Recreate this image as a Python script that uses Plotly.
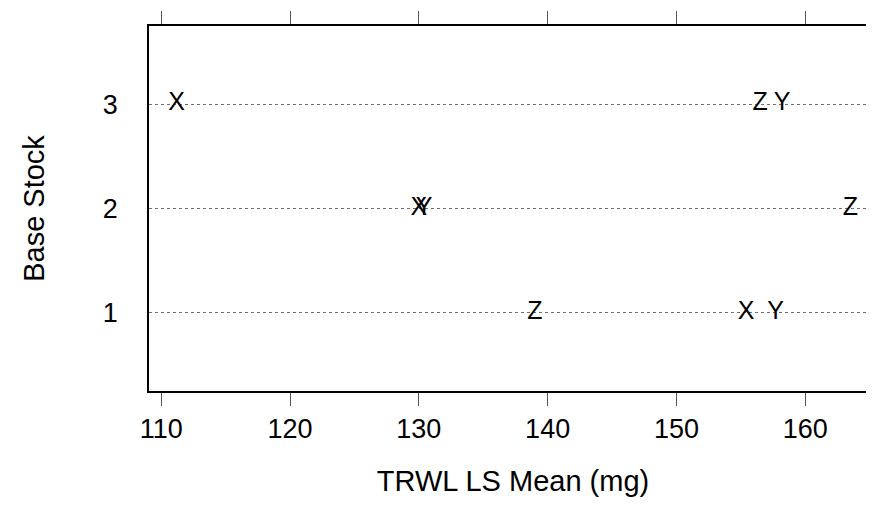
import plotly.graph_objects as go

# 数据：每个 Base Stock 水平上的 X / Y / Z 均值
base_stock = [3, 2, 1]
x_means = [111.2, 130.0, 155.4]
y_means = [158.2, 130.4, 157.7]
z_means = [156.5, 163.5, 139.0]
x_ticks = [110, 120, 130, 140, 150, 160]
y_ticks = [1, 2, 3]

FONT = "Arial, Liberation Sans, sans-serif"

fig = go.Figure()

for label, vals in [("X", x_means), ("Y", y_means), ("Z", z_means)]:
    fig.add_trace(go.Scatter(
        x=vals,
        y=base_stock,
        mode="text",
        text=[label] * len(vals),
        textposition="middle center",
        textfont=dict(family=FONT, size=25, color="black"),
        showlegend=False,
        hoverinfo="x+y",
    ))

fig.update_layout(
    width=874,
    height=505,
    margin=dict(l=141, r=3, t=18, b=122),
    paper_bgcolor="white",
    plot_bgcolor="white",
    font=dict(family=FONT, color="black"),
    xaxis=dict(
        range=[109.05, 165.57],
        tickvals=x_ticks,
        ticks="outside",
        ticklen=13,
        tickwidth=1,
        tickcolor="#555555",
        tickfont=dict(size=27),
        showline=True,
        linecolor="black",
        linewidth=1.5,
        mirror="allticks",
        showgrid=False,
        zeroline=False,
        title=dict(text="TRWL LS Mean (mg)", font=dict(size=29), standoff=28),
    ),
    yaxis=dict(
        range=[0.25, 3.75],
        tickvals=y_ticks,
        ticks="",
        ticklabelstandoff=24,
        tickfont=dict(size=27),
        showline=True,
        linecolor="black",
        linewidth=1.5,
        mirror=True,
        showgrid=True,
        gridcolor="#6f6f6f",
        gridwidth=1,
        griddash="dot",
        zeroline=False,
        title=dict(text="Base Stock", font=dict(size=29), standoff=50),
    ),
)

fig.write_html("out.html")
